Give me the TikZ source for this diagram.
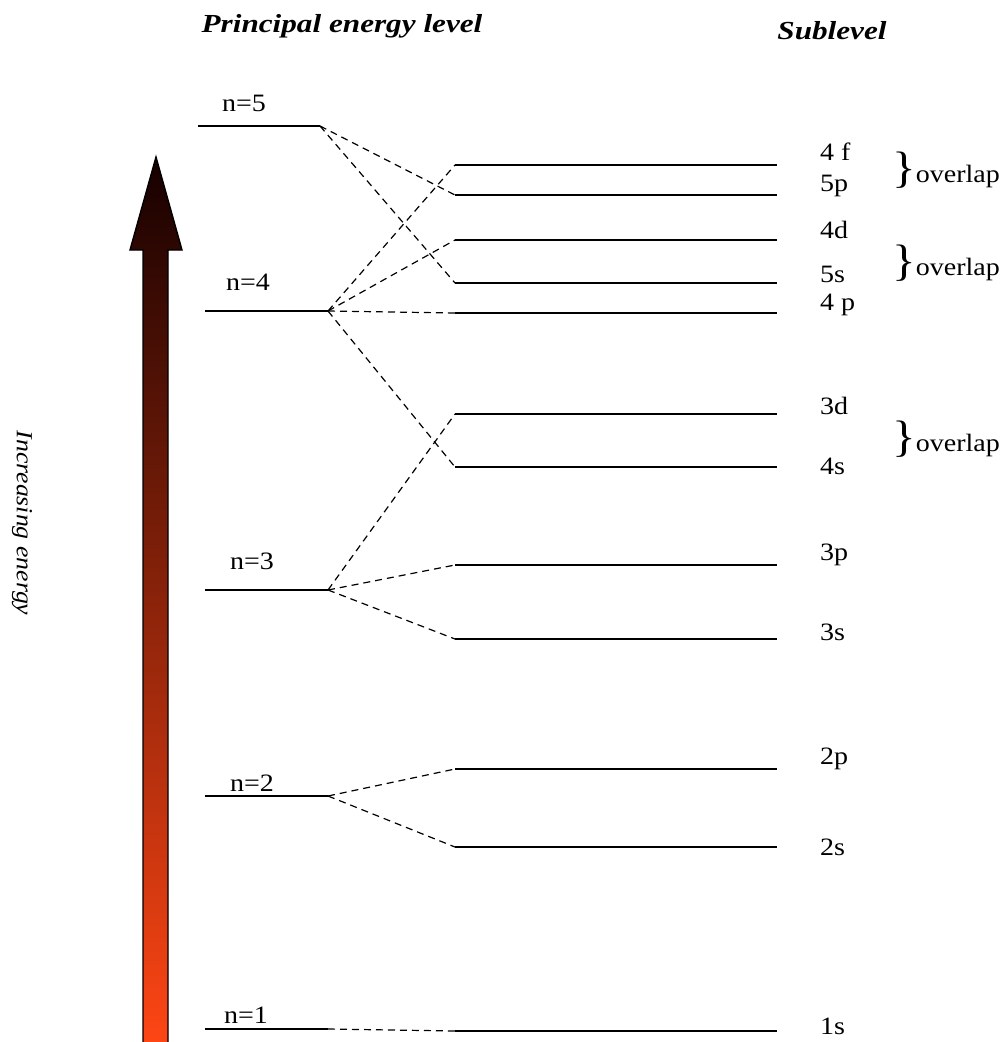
\documentclass[tikz,border=0pt]{standalone}
\usepackage{fontspec}
\setmainfont{Liberation Serif}[FakeStretch=1.12]
\newfontfamily\ttlfont{Liberation Serif}[FakeStretch=1.2]
\begin{document}
\begin{tikzpicture}[x=1pt,y=-1pt,
  lvl/.style={line width=1.4pt},
  conn/.style={line width=1.2pt,dash pattern=on 7pt off 5pt},
  lab/.style={font=\fontsize{25}{28}\selectfont,inner sep=0pt,anchor=west},
  nlab/.style={font=\fontsize{25}{28}\selectfont,inner sep=0pt},
  ttl/.style={font=\ttlfont\fontsize{26}{30}\selectfont\bfseries\itshape,inner sep=0pt},
  ovl/.style={inner sep=0pt,anchor=west}]
\useasboundingbox (0,0) rectangle (1008,1042);
% arrow
\shade[top color={rgb,255:red,22;green,0;blue,0},bottom color={rgb,255:red,255;green,70;blue,20},draw=black,line width=1.4pt]
 (143,1046) -- (143,250) -- (130,250) -- (156,157) -- (182,250) -- (168,250) -- (168,1046) -- cycle;
\node[rotate=-90,font=\fontsize{23}{26}\selectfont\itshape,inner sep=0pt] (ie) at (22,523) {Increasing energy};
% titles
\node[ttl] (t1) at (342,26) {Principal energy level};
\node[ttl] (t2) at (832,31) {Sublevel};
% principal levels
\coordinate (n5a) at (198,126); \coordinate (n5b) at (320,126);
\coordinate (n4a) at (205,311); \coordinate (n4b) at (328,311);
\coordinate (n3a) at (205,590); \coordinate (n3b) at (328,590);
\coordinate (n2a) at (205,796); \coordinate (n2b) at (328,796);
\coordinate (n1a) at (205,1029); \coordinate (n1b) at (328,1029);
\foreach \n in {n5,n4,n3,n2,n1} \draw[lvl] (\n a) -- (\n b);
\node[nlab] (l5) at (244,103) {n=5};
\node[nlab] (l4) at (248,282) {n=4};
\node[nlab] (l3) at (252,561) {n=3};
\node[nlab] (l2) at (252,783) {n=2};
\node[nlab] (l1) at (246,1015) {n=1};
% sublevels
\foreach \s/\y in {f4/165,p5/195,d4/240,s5/283,p4/313,d3/414,s4/467,p3/565,s3/639,p2/769,s2/847,s1/1031}{
  \coordinate (\s a) at (455,\y); \coordinate (\s b) at (777,\y);
  \draw[lvl] (\s a) -- (\s b);
}
\node[lab] (tf4) at (820,152) {4 f};
\node[lab] (tp5) at (820,186) {5p};
\node[lab] (td4) at (820,230) {4d};
\node[lab] (ts5) at (820,274) {5s};
\node[lab] (tp4) at (820,305) {4 p};
\node[lab] (td3) at (820,406) {3d};
\node[lab] (ts4) at (820,466) {4s};
\node[lab] (tp3) at (820,555) {3p};
\node[lab] (ts3) at (820,632) {3s};
\node[lab] (tp2) at (820,759) {2p};
\node[lab] (ts2) at (820,847) {2s};
\node[lab] (ts1) at (820,1026) {1s};
% overlaps
\node[ovl] (o1) at (892,170) {{\fontsize{44}{44}\selectfont\}}{\fontsize{25}{28}\selectfont overlap}};
\node[ovl] (o2) at (892,263) {{\fontsize{44}{44}\selectfont\}}{\fontsize{25}{28}\selectfont overlap}};
\node[ovl] (o3) at (892,439) {{\fontsize{44}{44}\selectfont\}}{\fontsize{25}{28}\selectfont overlap}};
% connectors
\draw[conn] (n5b) -- (p5a);
\draw[conn] (n5b) -- (s5a);
\draw[conn] (n4b) -- (f4a);
\draw[conn] (n4b) -- (d4a);
\draw[conn] (n4b) -- (p4a);
\draw[conn] (n4b) -- (s4a);
\draw[conn] (n3b) -- (d3a);
\draw[conn] (n3b) -- (p3a);
\draw[conn] (n3b) -- (s3a);
\draw[conn] (n2b) -- (p2a);
\draw[conn] (n2b) -- (s2a);
\draw[conn] (n1b) -- (s1a);
\end{tikzpicture}
\end{document}
